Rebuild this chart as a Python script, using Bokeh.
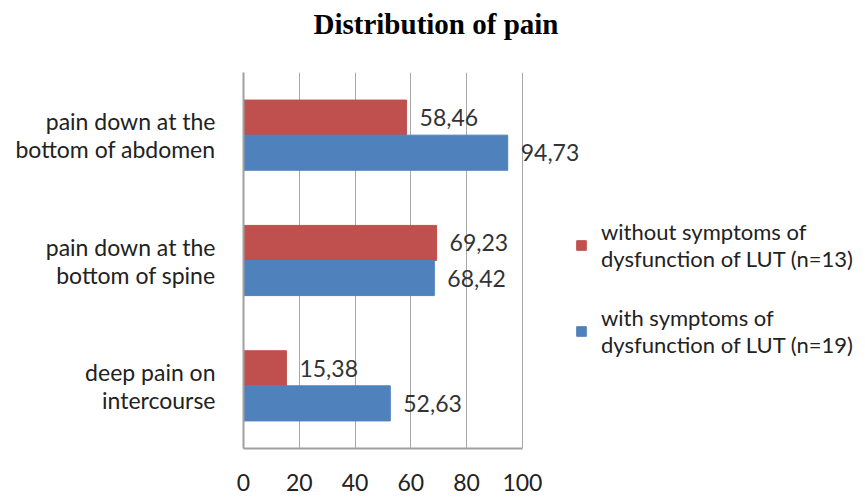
from bokeh.plotting import figure
from bokeh.models import ColumnDataSource, FixedTicker, Legend, LegendItem, LabelSet, Title
from bokeh.core.properties import value
from bokeh.embed import file_html
from bokeh.resources import INLINE

categories = ["deep pain on\nintercourse", "pain down at the\nbottom of spine", "pain down at the\nbottom of abdomen"]
without_vals = [15.38, 69.23, 58.46]
with_vals = [52.63, 68.42, 94.73]
x_ticks = [0, 20, 40, 60, 80, 100]
series_names = ["without symptoms of\ndysfunction of LUT (n=13)", "with symptoms of\ndysfunction of LUT (n=19)"]

RED = "#C0504D"
BLUE = "#4F81BD"
FONT = "Lato"

pos = list(range(len(categories)))
off = 0.14
src_wo = ColumnDataSource(dict(y=[p_ + off for p_ in pos], v=without_vals,
                               lab=[f"{v:.2f}".replace(".", ",") for v in without_vals]))
src_w = ColumnDataSource(dict(y=[p_ - off for p_ in pos], v=with_vals,
                              lab=[f"{v:.2f}".replace(".", ",") for v in with_vals]))

# axis spans 0..100 over 279 px; frame extended to 128 so data labels are not clipped
p = figure(frame_width=357, frame_height=376, output_backend="svg", toolbar_location=None,
           x_range=(0, 128), y_range=(-0.5, 2.5),
           min_border_left=243, min_border_right=0, min_border_top=70, min_border_bottom=51)
p.title.text = "Distribution of pain"
p.title.text_font = "Liberation Serif"
p.title.text_font_size = "29px"
p.title.text_font_style = "bold"
p.title.align = "left"
p.title.offset = 70
p.title.text_color = "#000000"
p.add_layout(Title(text=" ", text_font_size="14px"), "above")

r_wo = p.hbar(y="y", right="v", left=0, height=0.28, source=src_wo, fill_color=RED, line_color=RED)
r_w = p.hbar(y="y", right="v", left=0, height=0.28, source=src_w, fill_color=BLUE, line_color=BLUE)

for s in (src_wo, src_w):
    p.add_layout(LabelSet(x="v", y="y", text="lab", source=s, x_offset=13, text_baseline="middle",
                          text_align="left", text_font=value(FONT), text_font_size="23px",
                          text_color="#333333"))

p.xaxis.ticker = FixedTicker(ticks=x_ticks)
p.xaxis.bounds = (0, 100)
p.yaxis.ticker = FixedTicker(ticks=pos)
p.yaxis.major_label_overrides = {i: c for i, c in enumerate(categories)}
for ax in (p.xaxis, p.yaxis):
    ax.major_tick_line_color = None
    ax.minor_tick_line_color = None
    ax.axis_line_color = "#A0A0A0"
    ax.axis_line_width = 2
    ax.major_label_text_font = FONT
    ax.major_label_text_font_size = "23px"
    ax.major_label_text_color = "#222222"
p.yaxis.major_label_text_line_height = 1.0
p.xaxis.major_label_standoff = 19
p.yaxis.major_label_standoff = 22

p.xgrid.grid_line_color = "#A8A8A8"
p.xgrid.grid_line_width = 1
p.ygrid.grid_line_color = None
p.outline_line_color = None

legend = Legend(items=[LegendItem(label=series_names[0], renderers=[r_wo]),
                       LegendItem(label=series_names[1], renderers=[r_w])],
                location=(-25, 90), border_line_alpha=0, background_fill_alpha=0,
                label_text_font=FONT, label_text_font_size="22px", label_text_color="#222222",
                label_text_line_height=0.9,
                glyph_width=12, glyph_height=12, spacing=32, padding=0, margin=0,
                label_standoff=14)
p.add_layout(legend, "right")

open("out.html", "w").write(file_html(p, INLINE))
